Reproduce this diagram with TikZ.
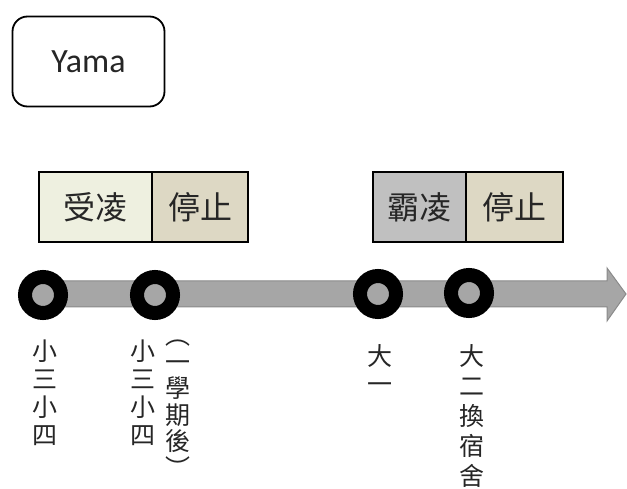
\documentclass[tikz,border=0pt]{standalone}
\usepackage{fontspec}
\setmainfont{Carlito}
\newfontfamily\cjk{Noto Sans CJK TC}
\usetikzlibrary{shapes.arrows}
\definecolor{boxA}{HTML}{EEF0E0}
\definecolor{boxB}{HTML}{DDD8C4}
\definecolor{boxG}{HTML}{C0C0C0}
\definecolor{shaft}{HTML}{A6A6A6}
\definecolor{shaftline}{HTML}{8A8A8A}
\tikzset{
  phase/.style={draw=black, line width=1.6pt, inner sep=0pt, font=\cjk\fontsize{32}{34}\selectfont, text=black!85},
  dot/.style={circle, draw=black, line width=14pt, fill=shaft, minimum size=36pt, inner sep=0pt},
  vlabel/.style={anchor=north, align=center, inner sep=0pt, font=\cjk\fontsize{25}{28}\selectfont, text=black!85},
}
\begin{document}
\begin{tikzpicture}[x=1pt,y=-1pt]
\useasboundingbox (0,0) rectangle (627,489);
% title box
\node[draw=black, line width=1.8pt, rounded corners=15pt, minimum width=152pt, minimum height=90pt, font=\fontsize{34}{36}\selectfont, text=black!85] (yama) at (88.5,61.5) {Yama};
% arrow
\filldraw[fill=shaft, draw=shaftline, line width=1pt]
  (43,281) -- (607,281) -- (607,268) -- (626,294) -- (607,321) -- (607,307) -- (43,307) -- cycle;
% dots
\node[dot] (d1) at (43,295) {};
\node[dot] (d2) at (155,295) {};
\node[dot] (d3) at (378,294) {};
\node[dot] (d4) at (469,293) {};
% phase boxes
\node[phase, fill=boxA, minimum width=113pt, minimum height=70pt] (b1) at (95.5,207) {受凌};
\node[phase, fill=boxB, minimum width=96pt, minimum height=70pt] (b2) at (200,207) {停止};
\node[phase, fill=boxG, minimum width=93pt, minimum height=70pt] (b3) at (419.5,207) {霸凌};
\node[phase, fill=boxB, minimum width=97pt, minimum height=70pt] (b4) at (514.5,207) {停止};
% vertical labels
\node[vlabel] (l1) at (45,340) {小\\三\\小\\四};
\node[vlabel] (l2) at (143,340) {小\\三\\小\\四};
\node[vlabel, font=\cjk\fontsize{25}{26.5}\selectfont] (l2b) at (178,340) {︵\\一\\學\\期\\後\\︶};
\node[vlabel] (l3) at (380,344) {大\\一};
\node[vlabel, font=\cjk\fontsize{25}{30}\selectfont] (l4) at (472,344) {大\\二\\換\\宿\\舍};
\end{tikzpicture}
\end{document}
